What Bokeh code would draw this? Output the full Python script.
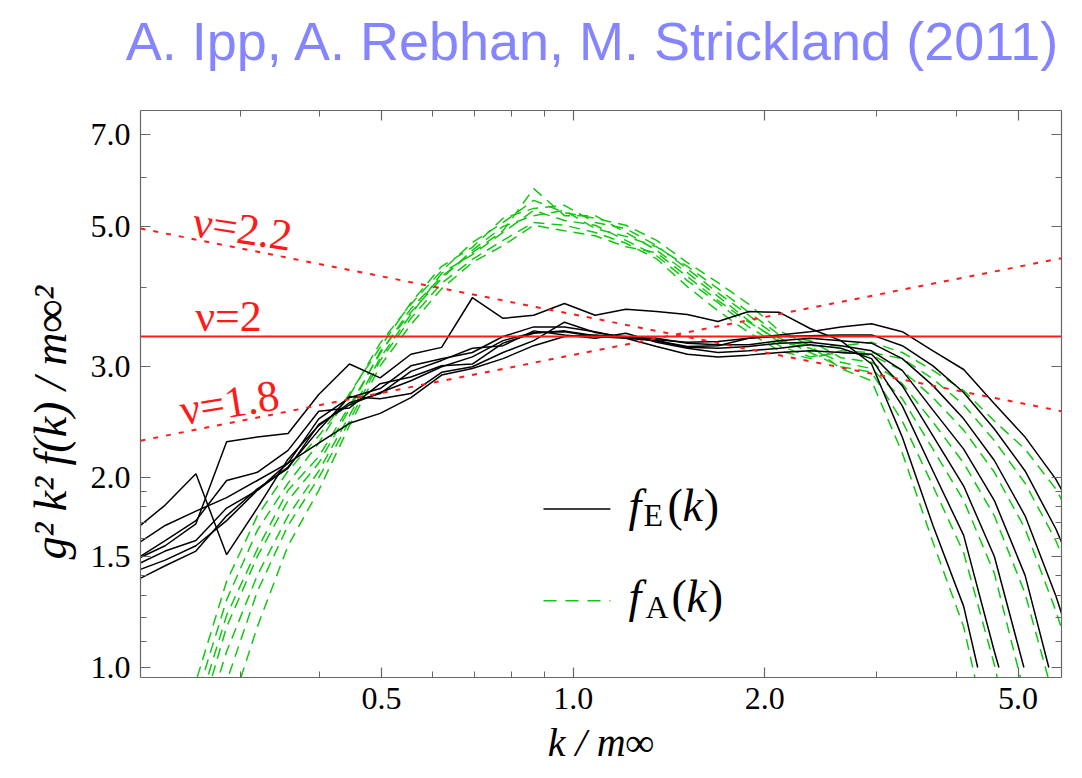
from bokeh.plotting import figure
from bokeh.models import FixedTicker, LogAxis, CustomJSTickFormatter, Label, Range1d
from bokeh.embed import file_html
from bokeh.resources import INLINE

# ---------------- data ----------------
k_grid = [0.2045, 0.2285, 0.2554, 0.2854, 0.3189, 0.3564, 0.3983, 0.4451,
          0.4974, 0.5559, 0.6212, 0.6942, 0.7757, 0.8669, 0.9688, 1.0826,
          1.2098, 1.3520, 1.5109, 1.6884, 1.8868, 2.1085, 2.3563, 2.6331,
          2.9425, 3.2883, 3.6746, 4.1064, 4.5889, 5.1281, 5.7307, 6.4040]

# f_E(k) curves (black), values start at k_grid[0]
fE_1 = [1.48, 1.56, 1.69, 2.28, 2.32, 2.35, 2.71, 3.03, 2.88, 3.14, 3.22, 3.86, 3.58, 3.62,
        3.78, 3.62, 3.70, 3.67, 3.63, 3.54, 3.67, 3.66, 3.45, 3.30, 3.03, 2.32, 1.68, 1.25]
fE_2 = [1.65, 1.81, 2.03, 1.51, 1.79, 2.14, 2.42, 2.63, 2.72, 2.95, 3.07, 3.21, 3.24, 3.42,
        3.37, 3.33, 3.39, 3.28, 3.21, 3.16, 3.18, 3.21, 3.25, 3.21, 3.09, 2.60, 2.05, 1.62, 1.06]
fE_3 = [1.56, 1.68, 1.77, 1.86, 1.98, 2.11, 2.48, 2.68, 2.77, 3.01, 3.09, 3.16, 3.35, 3.47,
        3.47, 3.41, 3.33, 3.23, 3.14, 3.11, 3.13, 3.16, 3.18, 3.16, 3.14, 2.80, 2.33, 1.94, 1.50]
fE_4 = [1.48, 1.59, 1.71, 1.98, 2.04, 2.21, 2.55, 2.58, 2.82, 2.89, 3.01, 3.03, 3.27, 3.39,
        3.42, 3.36, 3.35, 3.30, 3.22, 3.21, 3.23, 3.27, 3.28, 3.24, 3.18, 2.96, 2.56, 2.22,
        1.84, 1.40]
fE_5 = [1.45, 1.53, 1.59, 1.79, 1.91, 2.08, 2.38, 2.69, 2.67, 2.72, 2.94, 3.00, 3.16, 3.30,
        3.53, 3.40, 3.34, 3.33, 3.27, 3.25, 3.25, 3.30, 3.33, 3.30, 3.27, 3.09, 2.80, 2.48,
        2.13, 1.74, 1.30, 0.92]
fE_6 = [1.42, 1.48, 1.56, 1.71, 1.91, 2.11, 2.27, 2.44, 2.53, 2.68, 2.91, 2.98, 3.09, 3.24,
        3.35, 3.37, 3.34, 3.31, 3.28, 3.29, 3.33, 3.35, 3.36, 3.37, 3.37, 3.24, 3.01, 2.73,
        2.39, 2.05, 1.66, 1.28]
fE_7 = [1.37, 1.45, 1.53, 1.74, 1.92, 2.07, 2.43, 2.61, 2.73, 2.85, 3.00, 3.11, 3.30, 3.40,
        3.41, 3.35, 3.33, 3.30, 3.23, 3.24, 3.33, 3.37, 3.41, 3.47, 3.51, 3.41, 3.18, 2.97,
        2.62, 2.32, 1.99, 1.62]
fE_curves = [fE_1, fE_2, fE_3, fE_4, fE_5, fE_6, fE_7]
# where the plotted black curves stop (they are cut at the value 1.0)
fE_end_k = [4.32, 4.665, 5.106, 5.588, None, None, None]
fE_end_val = 1.0

# f_A(k) curves (green dashed), values start at k_grid[1]
fA_1 = [0.71, 0.95, 1.37, 1.74, 2.05, 2.33, 2.70, 3.27, 3.77, 4.26, 4.72, 5.08, 5.51, 5.27,
        5.16, 5.03, 4.76, 4.39, 4.08, 3.77, 3.42, 3.24, 2.98, 2.85, 2.19, 1.58, 1.16, 0.70]
fA_2 = [0.64, 0.89, 1.28, 1.65, 1.96, 2.27, 2.72, 3.22, 3.79, 4.33, 4.64, 5.16, 5.35, 5.41,
        5.08, 4.97, 4.67, 4.29, 3.93, 3.62, 3.33, 3.16, 3.00, 2.94, 2.46, 1.94, 1.52, 1.01, 0.61]
fA_3 = [0.59, 0.84, 1.21, 1.54, 1.91, 2.16, 2.60, 3.15, 3.71, 4.17, 4.55, 4.93, 5.75, 5.21,
        5.21, 4.90, 4.59, 4.23, 3.88, 3.55, 3.28, 3.21, 3.05, 2.98, 2.67, 2.22, 1.84, 1.41, 0.90]
fA_4 = [0.55, 0.79, 1.16, 1.50, 1.84, 2.11, 2.57, 3.17, 3.66, 4.14, 4.59, 5.01, 5.21, 5.31,
        4.97, 4.83, 4.65, 4.33, 3.99, 3.66, 3.37, 3.30, 3.10, 3.05, 2.82, 2.45, 2.11, 1.74,
        1.31, 0.87]
fA_5 = [0.49, 0.74, 1.06, 1.40, 1.74, 2.05, 2.51, 3.10, 3.63, 4.22, 4.52, 4.90, 5.31, 5.12,
        5.03, 4.76, 4.50, 4.11, 3.79, 3.47, 3.24, 3.11, 3.16, 3.13, 2.96, 2.68, 2.38, 2.04,
        1.66, 1.23, 0.87]
fA_6 = [0.46, 0.64, 0.95, 1.32, 1.68, 2.00, 2.46, 3.07, 3.58, 4.07, 4.44, 4.76, 5.08, 5.03,
        4.90, 4.71, 4.45, 4.02, 3.68, 3.40, 3.18, 3.09, 3.18, 3.16, 3.09, 2.87, 2.61, 2.29,
        1.96, 1.59, 1.21]
fA_7 = [0.40, 0.55, 0.82, 1.16, 1.56, 1.91, 2.42, 3.01, 3.50, 3.99, 4.39, 4.67, 5.03, 4.93,
        4.84, 4.65, 4.55, 4.17, 3.82, 3.53, 3.30, 3.24, 3.24, 3.28, 3.16, 2.96, 2.75, 2.46,
        2.22, 1.92, 1.56]
fA_curves = [fA_1, fA_2, fA_3, fA_4, fA_5, fA_6, fA_7]

# power-law reference lines  k^2 f ~ k^(2-nu), end values at the plot edges
nu_k = [0.209, 5.85]
nu_22 = [4.97, 2.55]
nu_20 = [3.35, 3.35]
nu_18 = [2.29, 4.46]

x_major = [0.5, 1.0, 2.0, 5.0]
x_minor = [0.3, 0.4, 0.6, 0.7, 0.8, 0.9, 3.0, 4.0]
y_major = [1.0, 1.5, 2.0, 3.0, 5.0, 7.0]
y_minor = [1.1, 1.2, 1.3, 1.4, 1.6, 1.7, 1.8, 1.9, 4.0, 6.0]

TITLE = "A. Ipp, A. Rebhan, M. Strickland (2011)"

# ---------------- styles ----------------
SERIF = "Liberation Serif"
AXIS_GRAY = "#666666"
GREEN = "#11c811"
RED = "#ff1a1a"
NBSP = "\u00a0"

p = figure(width=1074, height=778, x_axis_type="log", y_axis_type="log",
           x_range=Range1d(0.209, 5.85), y_range=Range1d(0.964, 7.65),
           output_backend="svg", toolbar_location=None,
           min_border_left=140, min_border_right=13, min_border_top=110,
           min_border_bottom=101)
p.outline_line_color = None
p.xgrid.visible = False
p.ygrid.visible = False
p.background_fill_color = "white"
p.border_fill_color = "white"
p.title.visible = False

fmt = CustomJSTickFormatter(code="return tick.toFixed(1);")


def style_axis(ax, ticks, minor, show_labels):
    ax.ticker = FixedTicker(ticks=ticks, minor_ticks=minor)
    ax.axis_line_color = AXIS_GRAY
    ax.axis_line_width = 1.2
    ax.major_tick_line_color = AXIS_GRAY
    ax.minor_tick_line_color = AXIS_GRAY
    ax.major_tick_line_width = 1.2
    ax.minor_tick_line_width = 1.0
    ax.major_tick_in = 10
    ax.major_tick_out = 0
    ax.minor_tick_in = 6
    ax.minor_tick_out = 0
    if show_labels:
        ax.formatter = fmt
        ax.major_label_text_font = SERIF
        ax.major_label_text_font_size = "32px"
        ax.major_label_text_color = "black"
    else:
        ax.major_label_text_color = None
        ax.major_label_text_font_size = "1px"
        ax.major_label_standoff = 0


xax = p.xaxis[0]
yax = p.yaxis[0]
style_axis(xax, x_major, x_minor, True)
style_axis(yax, y_major, y_minor, True)
xax.major_label_standoff = 10
yax.major_label_standoff = 10

xax.axis_label = "k / m∞"
xax.axis_label_text_font = SERIF
xax.axis_label_text_font_style = "italic"
xax.axis_label_text_font_size = "40px"
xax.axis_label_text_color = "black"
xax.axis_label_standoff = 8

yax.axis_label = "g² k² f(k) / m∞²" + NBSP * 5
yax.axis_label_text_font = SERIF
yax.axis_label_text_font_style = "italic"
yax.axis_label_text_font_size = "46px"
yax.axis_label_text_color = "black"
yax.axis_label_standoff = 12

# mirrored frame ticks on top (carrying the citation heading) and right
top_ax = LogAxis()
style_axis(top_ax, x_major, x_minor, False)
top_ax.axis_label = TITLE + NBSP
top_ax.axis_label_text_font = "Liberation Sans"
top_ax.axis_label_text_font_style = "normal"
top_ax.axis_label_text_font_size = "54px"
top_ax.axis_label_text_color = "#8585ff"
top_ax.axis_label_standoff = 40
p.add_layout(top_ax, "above")
right_ax = LogAxis()
style_axis(right_ax, y_major, y_minor, False)
p.add_layout(right_ax, "right")

# ---------------- curves ----------------
for vals in fA_curves:
    ks = k_grid[1:1 + len(vals)]
    p.line(ks, vals, line_color=GREEN, line_width=1.5, line_dash="11 7")

for vals, kend in zip(fE_curves, fE_end_k):
    ks = list(k_grid[:len(vals)])
    ys = list(vals)
    if kend is not None:
        ks.append(kend)
        ys.append(fE_end_val)
    p.line(ks, ys, line_color="black", line_width=1.5)

p.line(nu_k, nu_22, line_color=RED, line_width=2, line_dash="5 8")
p.line(nu_k, nu_18, line_color=RED, line_width=2, line_dash="5 8")
p.line(nu_k, nu_20, line_color=RED, line_width=2)

# nu labels
for txt, kx, yv, ang in [("ν=2.2", 0.2529, 5.099, -0.15),
                         ("ν=2", 0.2547, 3.603, 0.0),
                         ("ν=1.8", 0.2413, 2.555, 0.16)]:
    p.add_layout(Label(x=kx, y=yv, text=txt, angle=ang, text_color=RED,
                       text_font=SERIF, text_font_size="44px",
                       text_align="left", text_baseline="alphabetic"))

# ---------------- legend (drawn in plot) ----------------
leg_k = [0.898, 1.144]
p.line(leg_k, [1.784, 1.784], line_color="black", line_width=1.5)
p.line(leg_k, [1.276, 1.276], line_color=GREEN, line_width=1.5, line_dash="13 9")


def add_piece(txt, kx, yv, size, style):
    p.add_layout(Label(x=kx, y=yv, text=txt, text_color="black", text_font=SERIF,
                       text_font_size=size, text_font_style=style,
                       text_align="left", text_baseline="alphabetic"))


for sub, ybase, ysub, ks in [("E", 1.806, 1.748, [1.2217, 1.2898, 1.4068, 1.4854, 1.6031]),
                             ("A", 1.295, 1.248, [1.2217, 1.2993, 1.4273, 1.5071, 1.6265])]:
    add_piece("f", ks[0], ybase, "46px", "italic")
    add_piece(sub, ks[1], ysub, "32px", "normal")
    add_piece("(", ks[2], ybase, "46px", "normal")
    add_piece("k", ks[3], ybase, "46px", "italic")
    add_piece(")", ks[4], ybase, "46px", "normal")

open("out.html", "w").write(file_html(p, INLINE))
